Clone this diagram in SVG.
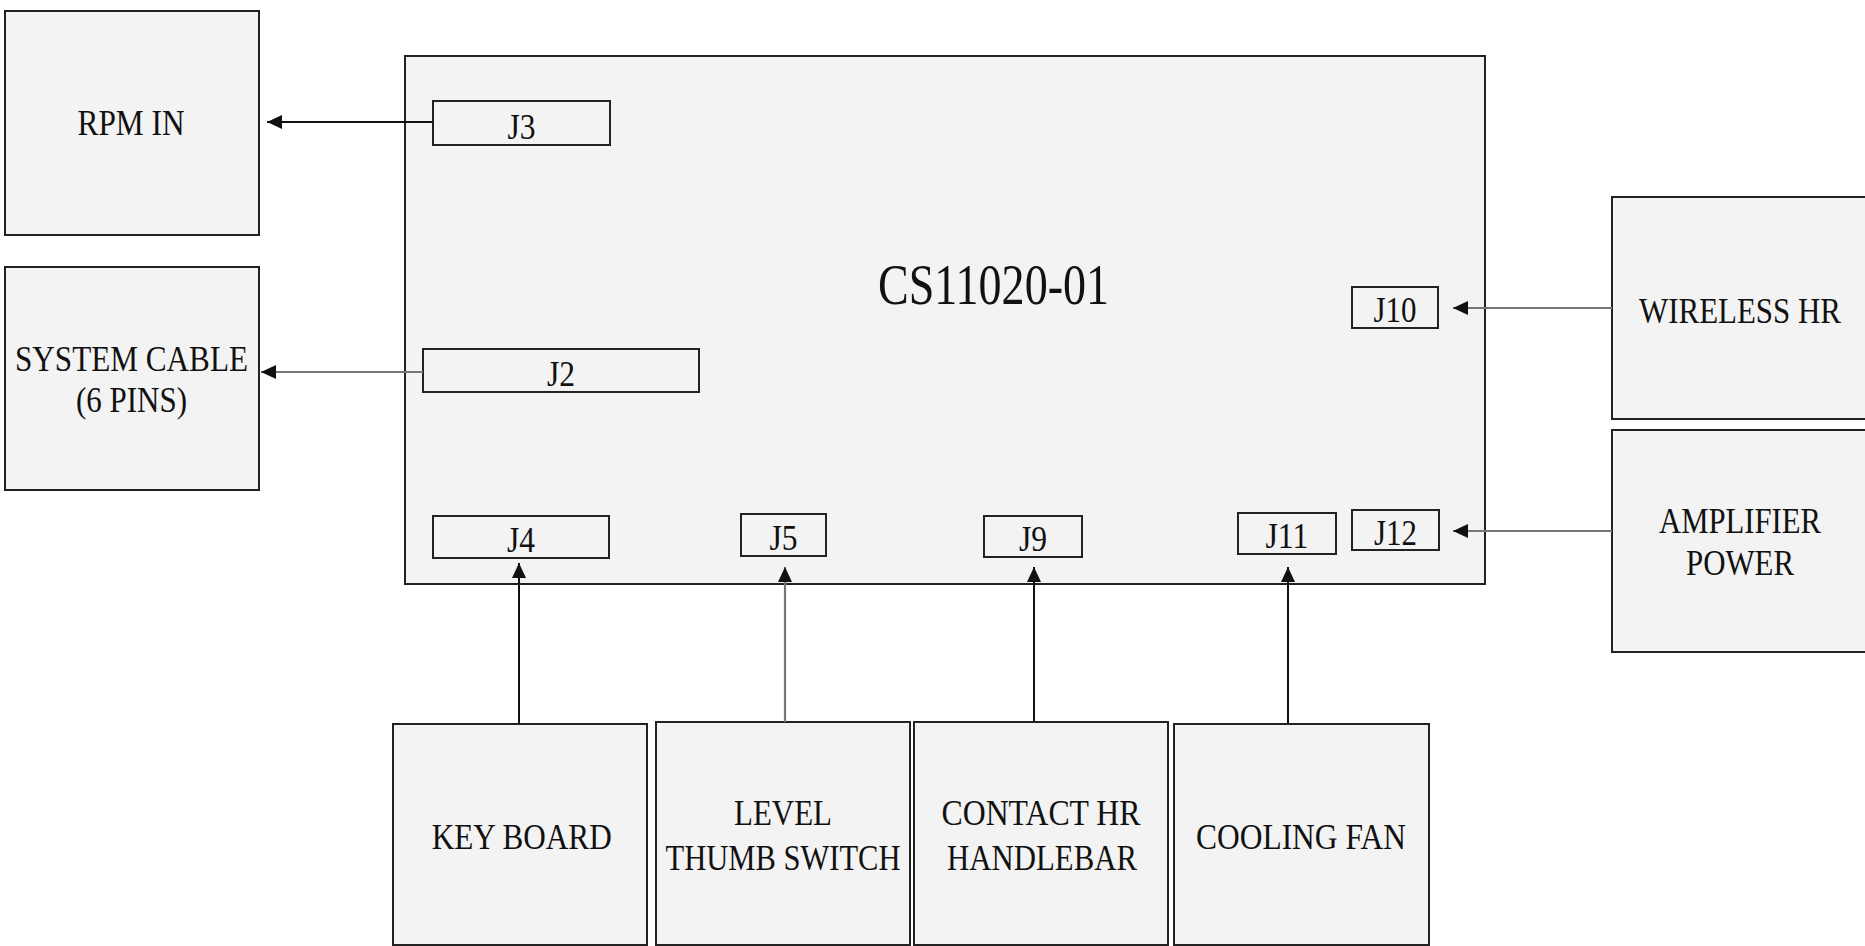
<svg xmlns="http://www.w3.org/2000/svg" width="1865" height="946" viewBox="0 0 1865 946">
<defs>
<style>
.box{fill:#f3f3f3;stroke:#222;stroke-width:2}
.jbox{fill:#f3f3f3;stroke:#222;stroke-width:2}
.t{font-family:"Liberation Serif","Times New Roman",serif;font-size:36px;fill:#111;text-anchor:middle}
.title{font-family:"Liberation Serif","Times New Roman",serif;font-size:57px;fill:#111;text-anchor:middle}
.c1{stroke:#111;stroke-width:2;fill:none}
.c2{stroke:#777;stroke-width:2.2;fill:none}
</style>
<marker id="ah" viewBox="0 0 15 14" refX="15" refY="7" markerWidth="15" markerHeight="14" markerUnits="userSpaceOnUse" orient="auto">
<path d="M0,0 L15,7 L0,14 Z" fill="#111"/>
</marker>
</defs>
<rect width="1865" height="946" fill="#ffffff"/>

<g id="rpm-in">
<rect class="box" x="5" y="11" width="254" height="224"/>
<text class="t" x="131" y="135" textLength="107" lengthAdjust="spacingAndGlyphs">RPM IN</text>
</g>
<g id="system-cable">
<rect class="box" x="5" y="267" width="254" height="223"/>
<text class="t" x="131.5" y="371" textLength="233" lengthAdjust="spacingAndGlyphs">SYSTEM CABLE</text>
<text class="t" x="131.5" y="412" textLength="111" lengthAdjust="spacingAndGlyphs">(6 PINS)</text>
</g>
<g id="cs11020-01">
<rect class="box" x="405" y="56" width="1080" height="528"/>
<text class="title" x="993.5" y="304" textLength="231" lengthAdjust="spacingAndGlyphs">CS11020-01</text>
</g>
<g id="j3">
<rect class="jbox" x="433" y="101" width="177" height="44"/>
<text class="t" x="521.5" y="139" textLength="28" lengthAdjust="spacingAndGlyphs">J3</text>
</g>
<g id="j2">
<rect class="jbox" x="423" y="349" width="276" height="43"/>
<text class="t" x="561" y="386" textLength="28" lengthAdjust="spacingAndGlyphs">J2</text>
</g>
<g id="j4">
<rect class="jbox" x="433" y="516" width="176" height="42"/>
<text class="t" x="521" y="552" textLength="28" lengthAdjust="spacingAndGlyphs">J4</text>
</g>
<g id="j5">
<rect class="jbox" x="741" y="514" width="85" height="42"/>
<text class="t" x="783.5" y="550" textLength="28" lengthAdjust="spacingAndGlyphs">J5</text>
</g>
<g id="j9">
<rect class="jbox" x="984" y="516" width="98" height="41"/>
<text class="t" x="1033" y="551" textLength="28" lengthAdjust="spacingAndGlyphs">J9</text>
</g>
<g id="j11">
<rect class="jbox" x="1238" y="513" width="98" height="41"/>
<text class="t" x="1287" y="548" textLength="43" lengthAdjust="spacingAndGlyphs">J11</text>
</g>
<g id="j12">
<rect class="jbox" x="1352" y="510" width="87" height="40"/>
<text class="t" x="1395.5" y="545" textLength="43" lengthAdjust="spacingAndGlyphs">J12</text>
</g>
<g id="j10">
<rect class="jbox" x="1352" y="287" width="86" height="41"/>
<text class="t" x="1395" y="322" textLength="43" lengthAdjust="spacingAndGlyphs">J10</text>
</g>
<g id="wireless-hr">
<rect class="box" x="1612" y="197" width="256" height="222"/>
<text class="t" x="1740" y="323" textLength="202" lengthAdjust="spacingAndGlyphs">WIRELESS HR</text>
</g>
<g id="amplifier-power">
<rect class="box" x="1612" y="430" width="256" height="222"/>
<text class="t" x="1740" y="533" textLength="162" lengthAdjust="spacingAndGlyphs">AMPLIFIER</text>
<text class="t" x="1740" y="575" textLength="108" lengthAdjust="spacingAndGlyphs">POWER</text>
</g>
<g id="key-board">
<rect class="box" x="393" y="724" width="254" height="221"/>
<text class="t" x="521.7" y="849" textLength="180" lengthAdjust="spacingAndGlyphs">KEY BOARD</text>
</g>
<g id="level-thumb-switch">
<rect class="box" x="656" y="722" width="254" height="223"/>
<text class="t" x="783" y="825" textLength="98" lengthAdjust="spacingAndGlyphs">LEVEL</text>
<text class="t" x="783" y="870" textLength="235" lengthAdjust="spacingAndGlyphs">THUMB SWITCH</text>
</g>
<g id="contact-hr-handlebar">
<rect class="box" x="914" y="722" width="254" height="223"/>
<text class="t" x="1041" y="825" textLength="199" lengthAdjust="spacingAndGlyphs">CONTACT HR</text>
<text class="t" x="1042" y="870" textLength="190" lengthAdjust="spacingAndGlyphs">HANDLEBAR</text>
</g>
<g id="cooling-fan">
<rect class="box" x="1174" y="724" width="255" height="221"/>
<text class="t" x="1301" y="849" textLength="210" lengthAdjust="spacingAndGlyphs">COOLING FAN</text>
</g>

<g id="connectors">
<line class="c1" x1="433" y1="122" x2="267" y2="122" marker-end="url(#ah)"/>
<line class="c2" x1="423" y1="372" x2="261" y2="372" marker-end="url(#ah)"/>
<line class="c2" x1="1612" y1="308" x2="1453" y2="308" marker-end="url(#ah)"/>
<line class="c2" x1="1612" y1="531" x2="1453" y2="531" marker-end="url(#ah)"/>
<line class="c1" x1="519" y1="724" x2="519" y2="563" marker-end="url(#ah)"/>
<line class="c2" x1="785" y1="722" x2="785" y2="567" marker-end="url(#ah)"/>
<line class="c1" x1="1034" y1="722" x2="1034" y2="567" marker-end="url(#ah)"/>
<line class="c1" x1="1288" y1="724" x2="1288" y2="567" marker-end="url(#ah)"/>
</g>
</svg>
